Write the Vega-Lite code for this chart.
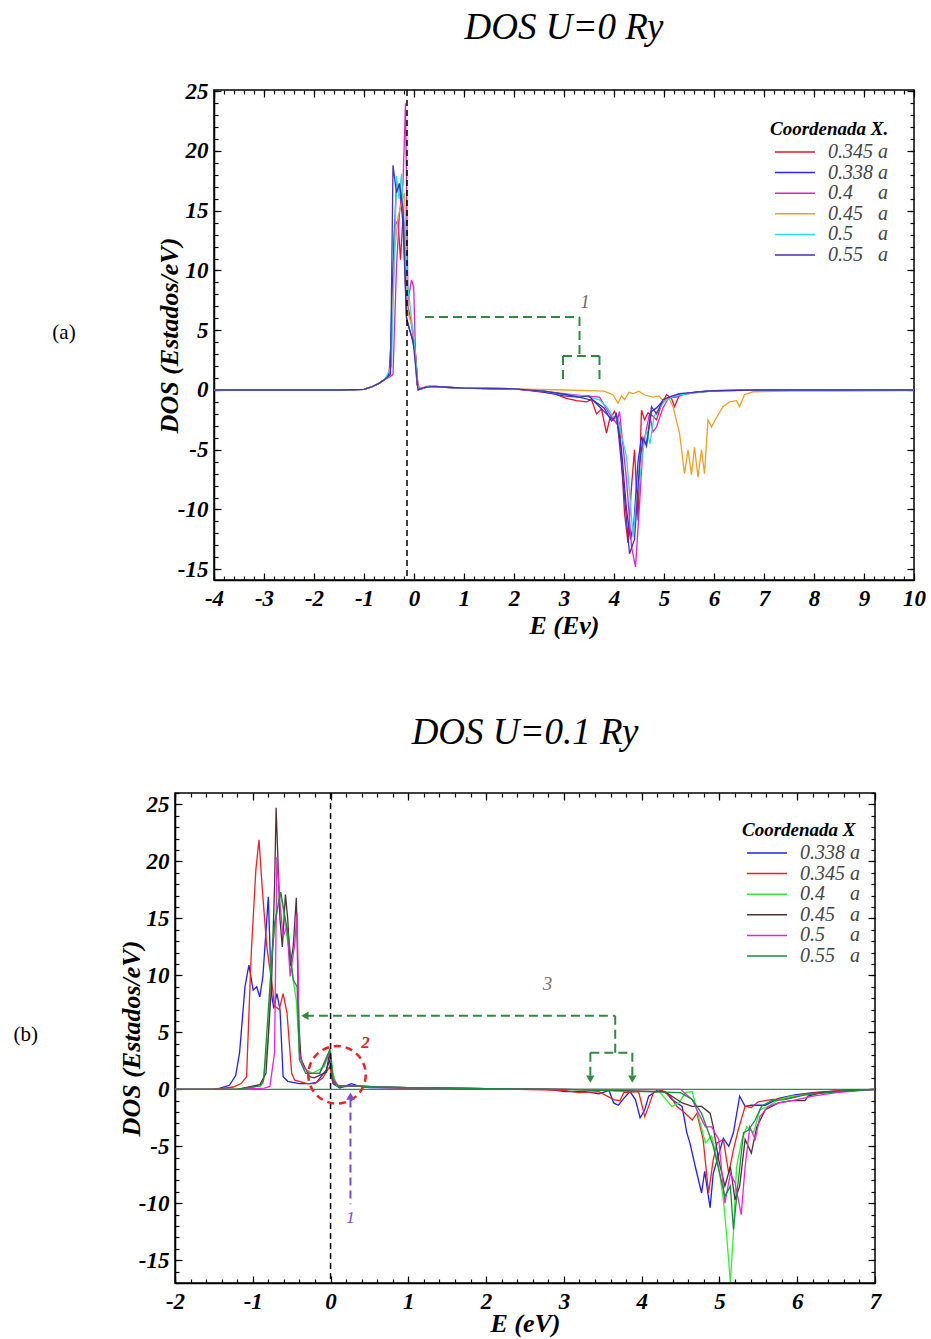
{
"$schema": "https://vega.github.io/schema/vega-lite/v6.json",
"padding": {"left": 12, "top": 8, "right": 5, "bottom": 2},
"background": "white",
"config": {
  "font": "Liberation Serif",
  "axis": {"labelFont": "Liberation Serif", "labelFontStyle": "italic", "labelFontWeight": "bold", "labelFontSize": 23, "labelColor": "#000", "titleFont": "Liberation Serif", "titleFontStyle": "italic", "titleFontWeight": "bold", "titleFontSize": 26, "titleColor": "#000", "domainColor": "#000", "domainWidth": 1.5, "tickColor": "#000", "tickWidth": 1.2, "grid": false},
  "title": {"font": "Liberation Serif", "fontStyle": "italic", "fontWeight": "normal", "fontSize": 37, "color": "#000", "frame": "group"},
  "legend": {"titleFont": "Liberation Serif", "titleFontStyle": "italic", "titleFontWeight": "bold", "titleFontSize": 19, "titleColor": "#000", "labelFont": "Liberation Serif", "labelFontStyle": "italic", "labelFontSize": 20, "labelColor": "#444"}
},
"resolve": {"scale": {"x": "independent", "y": "independent", "color": "independent"}, "legend": {"color": "independent"}},
"spacing": 74,
"datasets": {
  "A": [
{"s":"0.345","E":-4,"D":0},{"s":"0.345","E":-1.5,"D":0},{"s":"0.345","E":-1,"D":0.05},{"s":"0.345","E":-0.85,"D":0.25},{"s":"0.345","E":-0.7,"D":0.55},{"s":"0.345","E":-0.58,"D":0.9},{"s":"0.345","E":-0.5,"D":1.2},{"s":"0.345","E":-0.45,"D":4.7},{"s":"0.345","E":-0.39,"D":13.7},{"s":"0.345","E":-0.32,"D":14.2},{"s":"0.345","E":-0.27,"D":10.9},{"s":"0.345","E":-0.22,"D":14.5},{"s":"0.345","E":-0.17,"D":13},{"s":"0.345","E":-0.12,"D":7},{"s":"0.345","E":-0.05,"D":5.5},{"s":"0.345","E":0.01,"D":3.6},{"s":"0.345","E":0.06,"D":0.4},{"s":"0.345","E":0.12,"D":0.1},{"s":"0.345","E":0.25,"D":0.3},{"s":"0.345","E":0.45,"D":0.3},{"s":"0.345","E":0.7,"D":0.2},{"s":"0.345","E":1,"D":0.15},{"s":"0.345","E":1.5,"D":0.1},{"s":"0.345","E":2,"D":0.1},{"s":"0.345","E":2.4,"D":-0.1},{"s":"0.345","E":2.8,"D":-0.3},{"s":"0.345","E":3.05,"D":-0.7},{"s":"0.345","E":3.25,"D":-0.9},{"s":"0.345","E":3.45,"D":-1},{"s":"0.345","E":3.55,"D":-0.8},{"s":"0.345","E":3.65,"D":-2},{"s":"0.345","E":3.75,"D":-1.6},{"s":"0.345","E":3.85,"D":-3.6},{"s":"0.345","E":3.91,"D":-2.5},{"s":"0.345","E":4.01,"D":-1.8},{"s":"0.345","E":4.11,"D":-2.8},{"s":"0.345","E":4.21,"D":-10.3},{"s":"0.345","E":4.28,"D":-12.8},{"s":"0.345","E":4.35,"D":-8.1},{"s":"0.345","E":4.41,"D":-5},{"s":"0.345","E":4.48,"D":-10.9},{"s":"0.345","E":4.55,"D":-1.7},{"s":"0.345","E":4.61,"D":-2.5},{"s":"0.345","E":4.68,"D":-1.9},{"s":"0.345","E":4.78,"D":-2.2},{"s":"0.345","E":4.85,"D":-2.5},{"s":"0.345","E":4.95,"D":-1.2},{"s":"0.345","E":5.05,"D":-0.4},{"s":"0.345","E":5.15,"D":-0.7},{"s":"0.345","E":5.21,"D":-1.4},{"s":"0.345","E":5.31,"D":-0.4},{"s":"0.345","E":5.5,"D":-0.3},{"s":"0.345","E":5.71,"D":-0.15},{"s":"0.345","E":6.2,"D":-0.05},{"s":"0.345","E":7,"D":0},{"s":"0.345","E":10,"D":0},
{"s":"0.338","E":-4,"D":0},{"s":"0.338","E":-1.5,"D":0},{"s":"0.338","E":-1,"D":0.05},{"s":"0.338","E":-0.85,"D":0.25},{"s":"0.338","E":-0.7,"D":0.55},{"s":"0.338","E":-0.58,"D":0.9},{"s":"0.338","E":-0.48,"D":1.5},{"s":"0.338","E":-0.42,"D":10},{"s":"0.338","E":-0.36,"D":16.5},{"s":"0.338","E":-0.3,"D":17.2},{"s":"0.338","E":-0.22,"D":14},{"s":"0.338","E":-0.15,"D":6},{"s":"0.338","E":-0.05,"D":4.5},{"s":"0.338","E":0.03,"D":3},{"s":"0.338","E":0.08,"D":0.2},{"s":"0.338","E":0.15,"D":0.1},{"s":"0.338","E":0.3,"D":0.3},{"s":"0.338","E":0.5,"D":0.25},{"s":"0.338","E":1,"D":0.15},{"s":"0.338","E":2,"D":0.1},{"s":"0.338","E":2.5,"D":-0.1},{"s":"0.338","E":3,"D":-0.5},{"s":"0.338","E":3.3,"D":-0.6},{"s":"0.338","E":3.6,"D":-0.9},{"s":"0.338","E":3.8,"D":-1.5},{"s":"0.338","E":3.95,"D":-2.6},{"s":"0.338","E":4.05,"D":-2.2},{"s":"0.338","E":4.15,"D":-5},{"s":"0.338","E":4.25,"D":-10},{"s":"0.338","E":4.33,"D":-12.5},{"s":"0.338","E":4.4,"D":-11},{"s":"0.338","E":4.48,"D":-6},{"s":"0.338","E":4.55,"D":-4},{"s":"0.338","E":4.65,"D":-4.5},{"s":"0.338","E":4.75,"D":-1.8},{"s":"0.338","E":4.85,"D":-1.5},{"s":"0.338","E":4.98,"D":-0.9},{"s":"0.338","E":5.1,"D":-0.7},{"s":"0.338","E":5.3,"D":-0.4},{"s":"0.338","E":5.6,"D":-0.2},{"s":"0.338","E":6,"D":-0.05},{"s":"0.338","E":7,"D":0},{"s":"0.338","E":10,"D":0},
{"s":"0.4","E":-4,"D":0},{"s":"0.4","E":-1.5,"D":0},{"s":"0.4","E":-1,"D":0.05},{"s":"0.4","E":-0.85,"D":0.25},{"s":"0.4","E":-0.7,"D":0.55},{"s":"0.4","E":-0.58,"D":0.9},{"s":"0.4","E":-0.48,"D":1.1},{"s":"0.4","E":-0.42,"D":1.3},{"s":"0.4","E":-0.35,"D":10.3},{"s":"0.4","E":-0.29,"D":14.8},{"s":"0.4","E":-0.22,"D":17.3},{"s":"0.4","E":-0.17,"D":24},{"s":"0.4","E":-0.12,"D":7.5},{"s":"0.4","E":-0.05,"D":9.2},{"s":"0.4","E":-0.006,"D":8.6},{"s":"0.4","E":0.03,"D":3},{"s":"0.4","E":0.08,"D":0.3},{"s":"0.4","E":0.15,"D":0.1},{"s":"0.4","E":0.3,"D":0.3},{"s":"0.4","E":0.5,"D":0.25},{"s":"0.4","E":1,"D":0.15},{"s":"0.4","E":2,"D":0.1},{"s":"0.4","E":2.6,"D":-0.1},{"s":"0.4","E":3,"D":-0.3},{"s":"0.4","E":3.4,"D":-0.5},{"s":"0.4","E":3.71,"D":-0.6},{"s":"0.4","E":3.91,"D":-2},{"s":"0.4","E":4.05,"D":-2.8},{"s":"0.4","E":4.11,"D":-1.8},{"s":"0.4","E":4.25,"D":-7.5},{"s":"0.4","E":4.35,"D":-13.1},{"s":"0.4","E":4.43,"D":-14.8},{"s":"0.4","E":4.5,"D":-10.3},{"s":"0.4","E":4.58,"D":-4.7},{"s":"0.4","E":4.71,"D":-2},{"s":"0.4","E":4.78,"D":-3.5},{"s":"0.4","E":4.85,"D":-3.1},{"s":"0.4","E":4.98,"D":-1.5},{"s":"0.4","E":5.1,"D":-0.6},{"s":"0.4","E":5.25,"D":-0.6},{"s":"0.4","E":5.45,"D":-0.3},{"s":"0.4","E":5.7,"D":-0.15},{"s":"0.4","E":6.2,"D":-0.05},{"s":"0.4","E":7,"D":0},{"s":"0.4","E":10,"D":0},
{"s":"0.45","E":-4,"D":0},{"s":"0.45","E":-1.5,"D":0},{"s":"0.45","E":-1,"D":0.05},{"s":"0.45","E":-0.85,"D":0.25},{"s":"0.45","E":-0.7,"D":0.55},{"s":"0.45","E":-0.58,"D":0.9},{"s":"0.45","E":-0.48,"D":1.2},{"s":"0.45","E":-0.45,"D":4.7},{"s":"0.45","E":-0.38,"D":12},{"s":"0.45","E":-0.32,"D":14.5},{"s":"0.45","E":-0.23,"D":15.9},{"s":"0.45","E":-0.19,"D":16.5},{"s":"0.45","E":-0.12,"D":6.5},{"s":"0.45","E":-0.02,"D":5},{"s":"0.45","E":0.04,"D":2},{"s":"0.45","E":0.08,"D":0.2},{"s":"0.45","E":0.2,"D":0.2},{"s":"0.45","E":0.4,"D":0.3},{"s":"0.45","E":1,"D":0.15},{"s":"0.45","E":2,"D":0.1},{"s":"0.45","E":3,"D":0},{"s":"0.45","E":3.5,"D":-0.05},{"s":"0.45","E":3.8,"D":-0.1},{"s":"0.45","E":3.98,"D":-0.4},{"s":"0.45","E":4.08,"D":-1.1},{"s":"0.45","E":4.15,"D":-0.5},{"s":"0.45","E":4.21,"D":-0.8},{"s":"0.45","E":4.3,"D":-0.2},{"s":"0.45","E":4.38,"D":-0.3},{"s":"0.45","E":4.5,"D":-0.1},{"s":"0.45","E":4.6,"D":-0.4},{"s":"0.45","E":4.78,"D":-0.6},{"s":"0.45","E":4.9,"D":-0.5},{"s":"0.45","E":4.98,"D":-0.9},{"s":"0.45","E":5.1,"D":-0.7},{"s":"0.45","E":5.18,"D":-1.4},{"s":"0.45","E":5.31,"D":-3.6},{"s":"0.45","E":5.41,"D":-7},{"s":"0.45","E":5.48,"D":-5},{"s":"0.45","E":5.55,"D":-7.1},{"s":"0.45","E":5.61,"D":-4.8},{"s":"0.45","E":5.68,"D":-7.3},{"s":"0.45","E":5.75,"D":-5},{"s":"0.45","E":5.81,"D":-7},{"s":"0.45","E":5.88,"D":-2.5},{"s":"0.45","E":5.95,"D":-3.1},{"s":"0.45","E":6.05,"D":-2.3},{"s":"0.45","E":6.18,"D":-1.4},{"s":"0.45","E":6.31,"D":-1},{"s":"0.45","E":6.45,"D":-0.9},{"s":"0.45","E":6.51,"D":-1.4},{"s":"0.45","E":6.61,"D":-0.4},{"s":"0.45","E":6.78,"D":-0.15},{"s":"0.45","E":7.5,"D":-0.1},{"s":"0.45","E":8.5,"D":-0.1},{"s":"0.45","E":10,"D":-0.05},
{"s":"0.5","E":-4,"D":0},{"s":"0.5","E":-1.5,"D":0},{"s":"0.5","E":-1,"D":0.05},{"s":"0.5","E":-0.85,"D":0.25},{"s":"0.5","E":-0.7,"D":0.55},{"s":"0.5","E":-0.58,"D":0.9},{"s":"0.5","E":-0.45,"D":2},{"s":"0.5","E":-0.4,"D":10},{"s":"0.5","E":-0.35,"D":17.9},{"s":"0.5","E":-0.3,"D":16},{"s":"0.5","E":-0.25,"D":18.1},{"s":"0.5","E":-0.19,"D":13.1},{"s":"0.5","E":-0.12,"D":8.6},{"s":"0.5","E":-0.05,"D":6},{"s":"0.5","E":0.014,"D":3.6},{"s":"0.5","E":0.07,"D":0.4},{"s":"0.5","E":0.15,"D":0.1},{"s":"0.5","E":0.3,"D":0.3},{"s":"0.5","E":0.5,"D":0.25},{"s":"0.5","E":1,"D":0.15},{"s":"0.5","E":2,"D":0.1},{"s":"0.5","E":2.6,"D":-0.1},{"s":"0.5","E":3,"D":-0.4},{"s":"0.5","E":3.4,"D":-0.5},{"s":"0.5","E":3.7,"D":-0.8},{"s":"0.5","E":3.85,"D":-1.4},{"s":"0.5","E":3.98,"D":-2.2},{"s":"0.5","E":4.08,"D":-2.5},{"s":"0.5","E":4.25,"D":-5.6},{"s":"0.5","E":4.32,"D":-9},{"s":"0.5","E":4.38,"D":-12.3},{"s":"0.5","E":4.45,"D":-9},{"s":"0.5","E":4.51,"D":-7.7},{"s":"0.5","E":4.58,"D":-5},{"s":"0.5","E":4.65,"D":-3.4},{"s":"0.5","E":4.72,"D":-4.5},{"s":"0.5","E":4.8,"D":-2.2},{"s":"0.5","E":4.9,"D":-1.6},{"s":"0.5","E":5,"D":-1},{"s":"0.5","E":5.2,"D":-0.5},{"s":"0.5","E":5.5,"D":-0.3},{"s":"0.5","E":6,"D":-0.05},{"s":"0.5","E":7,"D":0},{"s":"0.5","E":10,"D":0},
{"s":"0.55","E":-4,"D":0},{"s":"0.55","E":-1.5,"D":0},{"s":"0.55","E":-1,"D":0.05},{"s":"0.55","E":-0.85,"D":0.25},{"s":"0.55","E":-0.7,"D":0.55},{"s":"0.55","E":-0.58,"D":0.9},{"s":"0.55","E":-0.47,"D":1.3},{"s":"0.55","E":-0.42,"D":18.8},{"s":"0.55","E":-0.35,"D":16.5},{"s":"0.55","E":-0.29,"D":17.3},{"s":"0.55","E":-0.22,"D":15.1},{"s":"0.55","E":-0.15,"D":6.1},{"s":"0.55","E":-0.09,"D":5},{"s":"0.55","E":-0.02,"D":4.2},{"s":"0.55","E":0.08,"D":0},{"s":"0.55","E":0.2,"D":0.2},{"s":"0.55","E":0.4,"D":0.3},{"s":"0.55","E":0.6,"D":0.25},{"s":"0.55","E":1,"D":0.15},{"s":"0.55","E":2,"D":0.1},{"s":"0.55","E":2.6,"D":-0.1},{"s":"0.55","E":3.05,"D":-0.4},{"s":"0.55","E":3.3,"D":-0.6},{"s":"0.55","E":3.5,"D":-0.5},{"s":"0.55","E":3.71,"D":-1.4},{"s":"0.55","E":3.85,"D":-2},{"s":"0.55","E":3.98,"D":-2.5},{"s":"0.55","E":4.05,"D":-2},{"s":"0.55","E":4.18,"D":-7.5},{"s":"0.55","E":4.31,"D":-13.7},{"s":"0.55","E":4.41,"D":-12.5},{"s":"0.55","E":4.51,"D":-6.3},{"s":"0.55","E":4.58,"D":-4},{"s":"0.55","E":4.65,"D":-4.7},{"s":"0.55","E":4.75,"D":-1.4},{"s":"0.55","E":4.85,"D":-2},{"s":"0.55","E":4.98,"D":-0.8},{"s":"0.55","E":5.1,"D":-0.6},{"s":"0.55","E":5.3,"D":-0.3},{"s":"0.55","E":5.6,"D":-0.2},{"s":"0.55","E":6,"D":-0.05},{"s":"0.55","E":7,"D":0},{"s":"0.55","E":10,"D":0}
  ],
  "B": [
{"s":"0.338","E":-2,"D":0},{"s":"0.338","E":-1.5,"D":0},{"s":"0.338","E":-1.42,"D":0.1},{"s":"0.338","E":-1.3,"D":0.35},{"s":"0.338","E":-1.22,"D":1.2},{"s":"0.338","E":-1.17,"D":3.2},{"s":"0.338","E":-1.1,"D":9},{"s":"0.338","E":-1.05,"D":10.9},{"s":"0.338","E":-0.995,"D":8.7},{"s":"0.338","E":-0.95,"D":9},{"s":"0.338","E":-0.91,"D":8.1},{"s":"0.338","E":-0.87,"D":9.9},{"s":"0.338","E":-0.8,"D":16.9},{"s":"0.338","E":-0.76,"D":8.4},{"s":"0.338","E":-0.73,"D":7.1},{"s":"0.338","E":-0.69,"D":8.4},{"s":"0.338","E":-0.65,"D":7},{"s":"0.338","E":-0.61,"D":1.1},{"s":"0.338","E":-0.55,"D":0.7},{"s":"0.338","E":-0.4,"D":0.5},{"s":"0.338","E":-0.27,"D":0.5},{"s":"0.338","E":-0.18,"D":0.6},{"s":"0.338","E":-0.055,"D":1.7},{"s":"0.338","E":-0.01,"D":2.6},{"s":"0.338","E":0.03,"D":0.5},{"s":"0.338","E":0.12,"D":0.1},{"s":"0.338","E":0.27,"D":0.5},{"s":"0.338","E":0.37,"D":0.25},{"s":"0.338","E":0.5,"D":0.15},{"s":"0.338","E":1,"D":0.1},{"s":"0.338","E":2,"D":0.05},{"s":"0.338","E":2.8,"D":0},{"s":"0.338","E":3.02,"D":-0.2},{"s":"0.338","E":3.28,"D":-0.2},{"s":"0.338","E":3.45,"D":-0.4},{"s":"0.338","E":3.58,"D":-0.1},{"s":"0.338","E":3.64,"D":-1.2},{"s":"0.338","E":3.7,"D":-1.4},{"s":"0.338","E":3.77,"D":-0.8},{"s":"0.338","E":3.85,"D":-0.2},{"s":"0.338","E":3.92,"D":-0.9},{"s":"0.338","E":3.98,"D":-2.5},{"s":"0.338","E":4.04,"D":-1.8},{"s":"0.338","E":4.09,"D":-0.6},{"s":"0.338","E":4.2,"D":-0.1},{"s":"0.338","E":4.3,"D":-0.2},{"s":"0.338","E":4.39,"D":-0.9},{"s":"0.338","E":4.52,"D":-1.5},{"s":"0.338","E":4.58,"D":-3.8},{"s":"0.338","E":4.62,"D":-4.7},{"s":"0.338","E":4.69,"D":-6.8},{"s":"0.338","E":4.77,"D":-9.1},{"s":"0.338","E":4.81,"D":-7.2},{"s":"0.338","E":4.88,"D":-10.4},{"s":"0.338","E":4.92,"D":-7.4},{"s":"0.338","E":5.05,"D":-4.3},{"s":"0.338","E":5.12,"D":-5},{"s":"0.338","E":5.18,"D":-3.8},{"s":"0.338","E":5.26,"D":-0.6},{"s":"0.338","E":5.33,"D":-1.5},{"s":"0.338","E":5.41,"D":-1.4},{"s":"0.338","E":5.59,"D":-1.4},{"s":"0.338","E":5.76,"D":-0.8},{"s":"0.338","E":5.97,"D":-0.5},{"s":"0.338","E":6.2,"D":-0.3},{"s":"0.338","E":6.6,"D":-0.1},{"s":"0.338","E":7,"D":0},
{"s":"0.345","E":-2,"D":0},{"s":"0.345","E":-1.5,"D":0},{"s":"0.345","E":-1.25,"D":0.2},{"s":"0.345","E":-1.15,"D":0.5},{"s":"0.345","E":-1.08,"D":1.1},{"s":"0.345","E":-1.02,"D":11.9},{"s":"0.345","E":-0.96,"D":19.3},{"s":"0.345","E":-0.92,"D":21.9},{"s":"0.345","E":-0.88,"D":17.8},{"s":"0.345","E":-0.82,"D":12.5},{"s":"0.345","E":-0.76,"D":9.6},{"s":"0.345","E":-0.72,"D":7.3},{"s":"0.345","E":-0.66,"D":7},{"s":"0.345","E":-0.61,"D":8.4},{"s":"0.345","E":-0.56,"D":6.7},{"s":"0.345","E":-0.5,"D":1.4},{"s":"0.345","E":-0.46,"D":0.8},{"s":"0.345","E":-0.3,"D":0.5},{"s":"0.345","E":-0.2,"D":0.5},{"s":"0.345","E":-0.1,"D":1},{"s":"0.345","E":-0.01,"D":2},{"s":"0.345","E":0.03,"D":0.6},{"s":"0.345","E":0.12,"D":0.2},{"s":"0.345","E":0.3,"D":0.3},{"s":"0.345","E":0.5,"D":0.2},{"s":"0.345","E":1,"D":0.1},{"s":"0.345","E":2,"D":0.05},{"s":"0.345","E":3,"D":-0.1},{"s":"0.345","E":3.19,"D":-0.3},{"s":"0.345","E":3.45,"D":-0.2},{"s":"0.345","E":3.64,"D":-0.9},{"s":"0.345","E":3.72,"D":-1},{"s":"0.345","E":3.77,"D":-0.3},{"s":"0.345","E":3.96,"D":-0.2},{"s":"0.345","E":4.04,"D":-2.4},{"s":"0.345","E":4.09,"D":-1.5},{"s":"0.345","E":4.15,"D":-0.3},{"s":"0.345","E":4.26,"D":-0.1},{"s":"0.345","E":4.37,"D":-0.6},{"s":"0.345","E":4.45,"D":-1.5},{"s":"0.345","E":4.56,"D":-2.1},{"s":"0.345","E":4.65,"D":-2.7},{"s":"0.345","E":4.71,"D":-2.1},{"s":"0.345","E":4.79,"D":-4.4},{"s":"0.345","E":4.86,"D":-9.1},{"s":"0.345","E":4.92,"D":-6.2},{"s":"0.345","E":4.97,"D":-4.7},{"s":"0.345","E":5.05,"D":-4.4},{"s":"0.345","E":5.12,"D":-7.4},{"s":"0.345","E":5.18,"D":-5.3},{"s":"0.345","E":5.24,"D":-3.6},{"s":"0.345","E":5.33,"D":-1.5},{"s":"0.345","E":5.41,"D":-1.6},{"s":"0.345","E":5.5,"D":-1.1},{"s":"0.345","E":5.67,"D":-0.9},{"s":"0.345","E":5.88,"D":-0.8},{"s":"0.345","E":6.1,"D":-0.4},{"s":"0.345","E":6.5,"D":-0.15},{"s":"0.345","E":7,"D":0},
{"s":"0.4","E":-2,"D":0},{"s":"0.4","E":-1.2,"D":0},{"s":"0.4","E":-1,"D":0.2},{"s":"0.4","E":-0.87,"D":0.5},{"s":"0.4","E":-0.8,"D":4.6},{"s":"0.4","E":-0.76,"D":11.9},{"s":"0.4","E":-0.7,"D":14.9},{"s":"0.4","E":-0.65,"D":17.3},{"s":"0.4","E":-0.6,"D":15.5},{"s":"0.4","E":-0.56,"D":13.4},{"s":"0.4","E":-0.5,"D":10.5},{"s":"0.4","E":-0.44,"D":7.8},{"s":"0.4","E":-0.4,"D":3.2},{"s":"0.4","E":-0.33,"D":1.8},{"s":"0.4","E":-0.23,"D":1.4},{"s":"0.4","E":-0.08,"D":2},{"s":"0.4","E":-0.003,"D":3.5},{"s":"0.4","E":0.03,"D":1.4},{"s":"0.4","E":0.08,"D":0.3},{"s":"0.4","E":0.2,"D":0.3},{"s":"0.4","E":0.4,"D":0.25},{"s":"0.4","E":0.6,"D":0.2},{"s":"0.4","E":1,"D":0.15},{"s":"0.4","E":2,"D":0.05},{"s":"0.4","E":3,"D":0},{"s":"0.4","E":4.2,"D":0},{"s":"0.4","E":4.39,"D":-1.5},{"s":"0.4","E":4.48,"D":-1.2},{"s":"0.4","E":4.56,"D":-0.3},{"s":"0.4","E":4.65,"D":-0.2},{"s":"0.4","E":4.73,"D":-2.4},{"s":"0.4","E":4.82,"D":-4.7},{"s":"0.4","E":4.9,"D":-4.1},{"s":"0.4","E":4.99,"D":-6.8},{"s":"0.4","E":5.05,"D":-9.7},{"s":"0.4","E":5.09,"D":-12.6},{"s":"0.4","E":5.14,"D":-16.9},{"s":"0.4","E":5.18,"D":-12.6},{"s":"0.4","E":5.22,"D":-6.8},{"s":"0.4","E":5.29,"D":-4.4},{"s":"0.4","E":5.35,"D":-3.3},{"s":"0.4","E":5.44,"D":-3.8},{"s":"0.4","E":5.52,"D":-1.8},{"s":"0.4","E":5.63,"D":-1.5},{"s":"0.4","E":5.76,"D":-0.9},{"s":"0.4","E":5.93,"D":-0.6},{"s":"0.4","E":6.1,"D":-0.5},{"s":"0.4","E":6.5,"D":-0.2},{"s":"0.4","E":7,"D":0},
{"s":"0.45","E":-2,"D":0},{"s":"0.45","E":-1.2,"D":0},{"s":"0.45","E":-0.91,"D":0.4},{"s":"0.45","E":-0.83,"D":1.4},{"s":"0.45","E":-0.76,"D":9},{"s":"0.45","E":-0.72,"D":17.8},{"s":"0.45","E":-0.7,"D":24.7},{"s":"0.45","E":-0.65,"D":14.9},{"s":"0.45","E":-0.62,"D":12.5},{"s":"0.45","E":-0.58,"D":17.1},{"s":"0.45","E":-0.55,"D":14.9},{"s":"0.45","E":-0.52,"D":10.8},{"s":"0.45","E":-0.48,"D":12.5},{"s":"0.45","E":-0.44,"D":16.8},{"s":"0.45","E":-0.41,"D":6.1},{"s":"0.45","E":-0.38,"D":2.6},{"s":"0.45","E":-0.27,"D":1.1},{"s":"0.45","E":-0.21,"D":1},{"s":"0.45","E":-0.055,"D":1.5},{"s":"0.45","E":-0.013,"D":3.2},{"s":"0.45","E":0.03,"D":0.8},{"s":"0.45","E":0.1,"D":0.3},{"s":"0.45","E":0.3,"D":0.3},{"s":"0.45","E":0.6,"D":0.2},{"s":"0.45","E":1,"D":0.15},{"s":"0.45","E":2,"D":0.05},{"s":"0.45","E":3,"D":0},{"s":"0.45","E":4.3,"D":-0.2},{"s":"0.45","E":4.52,"D":-1.2},{"s":"0.45","E":4.65,"D":-1.5},{"s":"0.45","E":4.77,"D":-1.5},{"s":"0.45","E":4.88,"D":-2.1},{"s":"0.45","E":4.92,"D":-3.3},{"s":"0.45","E":4.99,"D":-6.2},{"s":"0.45","E":5.07,"D":-8.5},{"s":"0.45","E":5.14,"D":-6.8},{"s":"0.45","E":5.2,"D":-9.7},{"s":"0.45","E":5.26,"D":-8.5},{"s":"0.45","E":5.33,"D":-4.4},{"s":"0.45","E":5.41,"D":-5.6},{"s":"0.45","E":5.48,"D":-3.3},{"s":"0.45","E":5.59,"D":-1.8},{"s":"0.45","E":5.76,"D":-1.2},{"s":"0.45","E":5.93,"D":-1},{"s":"0.45","E":6.1,"D":-1},{"s":"0.45","E":6.14,"D":-0.6},{"s":"0.45","E":6.3,"D":-0.3},{"s":"0.45","E":7,"D":0},
{"s":"0.5","E":-2,"D":0},{"s":"0.5","E":-1.2,"D":0},{"s":"0.5","E":-0.85,"D":0.1},{"s":"0.5","E":-0.78,"D":0.25},{"s":"0.5","E":-0.72,"D":3.2},{"s":"0.5","E":-0.69,"D":20.4},{"s":"0.5","E":-0.65,"D":16.3},{"s":"0.5","E":-0.61,"D":13.4},{"s":"0.5","E":-0.56,"D":14.3},{"s":"0.5","E":-0.52,"D":9.9},{"s":"0.5","E":-0.46,"D":12.8},{"s":"0.5","E":-0.43,"D":15.5},{"s":"0.5","E":-0.4,"D":3.2},{"s":"0.5","E":-0.35,"D":2},{"s":"0.5","E":-0.27,"D":1.4},{"s":"0.5","E":-0.14,"D":1.4},{"s":"0.5","E":-0.01,"D":3.2},{"s":"0.5","E":0.03,"D":1},{"s":"0.5","E":0.1,"D":0.3},{"s":"0.5","E":0.3,"D":0.3},{"s":"0.5","E":0.6,"D":0.2},{"s":"0.5","E":1,"D":0.15},{"s":"0.5","E":2,"D":0.05},{"s":"0.5","E":3,"D":0},{"s":"0.5","E":4.5,"D":0},{"s":"0.5","E":4.65,"D":-0.9},{"s":"0.5","E":4.73,"D":-2.1},{"s":"0.5","E":4.82,"D":-3.3},{"s":"0.5","E":4.9,"D":-3.3},{"s":"0.5","E":4.99,"D":-4.4},{"s":"0.5","E":5.07,"D":-10},{"s":"0.5","E":5.14,"D":-7.4},{"s":"0.5","E":5.2,"D":-8.2},{"s":"0.5","E":5.28,"D":-11},{"s":"0.5","E":5.33,"D":-6.8},{"s":"0.5","E":5.39,"D":-3.3},{"s":"0.5","E":5.46,"D":-4.4},{"s":"0.5","E":5.52,"D":-2.4},{"s":"0.5","E":5.63,"D":-1.5},{"s":"0.5","E":5.76,"D":-1.2},{"s":"0.5","E":6,"D":-0.9},{"s":"0.5","E":6.2,"D":-0.6},{"s":"0.5","E":6.5,"D":-0.3},{"s":"0.5","E":7,"D":0},
{"s":"0.55","E":-2,"D":0},{"s":"0.55","E":-1.2,"D":0},{"s":"0.55","E":-0.9,"D":0.3},{"s":"0.55","E":-0.86,"D":0.8},{"s":"0.55","E":-0.78,"D":9},{"s":"0.55","E":-0.72,"D":14.6},{"s":"0.55","E":-0.64,"D":17.3},{"s":"0.55","E":-0.58,"D":14.9},{"s":"0.55","E":-0.54,"D":13.4},{"s":"0.55","E":-0.48,"D":9.6},{"s":"0.55","E":-0.43,"D":9},{"s":"0.55","E":-0.4,"D":2.6},{"s":"0.55","E":-0.32,"D":1.4},{"s":"0.55","E":-0.14,"D":1.4},{"s":"0.55","E":-0.01,"D":3.5},{"s":"0.55","E":0.04,"D":0.6},{"s":"0.55","E":0.1,"D":0.3},{"s":"0.55","E":0.3,"D":0.3},{"s":"0.55","E":0.6,"D":0.2},{"s":"0.55","E":1,"D":0.15},{"s":"0.55","E":2,"D":0.05},{"s":"0.55","E":3,"D":0},{"s":"0.55","E":4.5,"D":-0.3},{"s":"0.55","E":4.65,"D":-0.9},{"s":"0.55","E":4.77,"D":-2.1},{"s":"0.55","E":4.86,"D":-3.8},{"s":"0.55","E":4.92,"D":-5},{"s":"0.55","E":5.01,"D":-7.6},{"s":"0.55","E":5.07,"D":-9.4},{"s":"0.55","E":5.14,"D":-8.5},{"s":"0.55","E":5.18,"D":-12.3},{"s":"0.55","E":5.24,"D":-8.2},{"s":"0.55","E":5.31,"D":-3.8},{"s":"0.55","E":5.37,"D":-3.6},{"s":"0.55","E":5.46,"D":-2.7},{"s":"0.55","E":5.54,"D":-1.5},{"s":"0.55","E":5.67,"D":-1},{"s":"0.55","E":5.84,"D":-0.9},{"s":"0.55","E":6.1,"D":-0.5},{"s":"0.55","E":6.5,"D":-0.2},{"s":"0.55","E":7,"D":0}
  ],
  "gA": [
    {"x":0.22,"x2":3.31,"y":6.1,"y2":6.1},
    {"x":3.31,"x2":3.31,"y":6.1,"y2":2.84},
    {"x":2.98,"x2":3.71,"y":2.84,"y2":2.84},
    {"x":2.98,"x2":2.98,"y":2.84,"y2":0.8},
    {"x":3.71,"x2":3.71,"y":2.84,"y2":0.8}
  ],
  "gB": [
    {"x":-0.33,"x2":3.66,"y":6.45,"y2":6.45},
    {"x":3.66,"x2":3.66,"y":6.45,"y2":3.2},
    {"x":3.34,"x2":3.88,"y":3.2,"y2":3.2},
    {"x":3.34,"x2":3.34,"y":3.2,"y2":1.2},
    {"x":3.88,"x2":3.88,"y":3.2,"y2":1.2}
  ]
},
"vconcat": [
  {
    "hconcat": [
      {"width": 39, "height": 10, "data": {"values": []}, "mark": {"type": "point", "opacity": 0}, "view": {"stroke": null}},
      {
        "width": 700, "height": 490,
        "title": {"text": "DOS U=0 Ry", "offset": 33},
        "view": {"stroke": "#000", "strokeWidth": 1.5},
        "resolve": {"axis": {"x": "independent", "y": "independent"}},
        "layer": [
          {
            "data": {"name": "A"},
            "mark": {"type": "line", "strokeWidth": 1.3, "clip": true},
            "encoding": {
              "x": {"field": "E", "type": "quantitative", "scale": {"domain": [-4, 10], "nice": false, "zero": false},
                    "axis": {"title": "E (Ev)", "values": [-4,-3,-2,-1,0,1,2,3,4,5,6,7,8,9,10], "tickSize": -7, "labelPadding": 14, "titlePadding": 2, "labelExpr": "toString(datum.value)", "labelFlush": false}},
              "y": {"field": "D", "type": "quantitative", "scale": {"domain": [-15.9, 25.1], "nice": false, "zero": false},
                    "axis": {"title": "DOS (Estados/eV)", "values": [-15,-10,-5,0,5,10,15,20,25], "tickSize": -7, "labelPadding": 13, "titlePadding": -5, "labelExpr": "toString(datum.value)", "labelFlush": false}},
              "color": {"field": "s", "type": "nominal",
                        "scale": {"domain": ["0.345","0.338","0.4","0.45","0.5","0.55"], "range": ["#e8102a","#2a2ae8","#e020c8","#f0a020","#20e0e8","#4a30b0"]},
                        "legend": {"title": "Coordenada X.", "orient": "none", "legendX": 556, "legendY": 30, "symbolType": "M-1,0H7", "symbolSize": 100, "symbolStrokeWidth": 1.5, "labelOffset": 38, "rowPadding": 0.6, "titlePadding": 3,
                                   "labelExpr": "datum.label == '0.4' || datum.label == '0.5' ? datum.label + '\u00a0\u00a0\u00a0\u00a0\u00a0a' : (datum.label == '0.45' || datum.label == '0.55' ? datum.label + '\u00a0\u00a0\u00a0a' : datum.label + '\u00a0a')"}}
            }
          },
          {
            "data": {"values": [{"E": -0.14}]},
            "mark": {"type": "rule", "color": "#000", "strokeWidth": 1.5, "strokeDash": [6, 4]},
            "encoding": {"x": {"field": "E", "type": "quantitative", "scale": {"domain": [-4, 10], "nice": false, "zero": false}, "axis": null}}
          },
          {
            "data": {"name": "gA"},
            "mark": {"type": "rule", "color": "#2e8b3e", "strokeWidth": 2, "strokeDash": [9, 5]},
            "encoding": {
              "x": {"field": "x", "type": "quantitative", "scale": {"domain": [-4, 10], "nice": false, "zero": false}, "axis": null},
              "x2": {"field": "x2"},
              "y": {"field": "y", "type": "quantitative", "scale": {"domain": [-15.9, 25.1], "nice": false, "zero": false}, "axis": null},
              "y2": {"field": "y2"}
            }
          },
          {
            "data": {"values": [{"E": 3.42, "D": 7.3, "t": "1"}]},
            "mark": {"type": "text", "font": "Liberation Serif", "fontStyle": "italic", "fontSize": 18, "color": "#666"},
            "encoding": {
              "x": {"field": "E", "type": "quantitative", "scale": {"domain": [-4, 10], "nice": false, "zero": false}, "axis": null},
              "y": {"field": "D", "type": "quantitative", "scale": {"domain": [-15.9, 25.1], "nice": false, "zero": false}, "axis": null},
              "text": {"field": "t"}
            }
          },
          {
            "data": {"values": [{"E": -7, "D": 4.8, "t": "(a)"}]},
            "mark": {"type": "text", "font": "Liberation Serif", "fontSize": 21, "color": "#000"},
            "encoding": {
              "x": {"field": "E", "type": "quantitative", "scale": {"domain": [-4, 10], "nice": false, "zero": false}, "axis": null},
              "y": {"field": "D", "type": "quantitative", "scale": {"domain": [-15.9, 25.1], "nice": false, "zero": false}, "axis": null},
              "text": {"field": "t"}
            }
          },
          {
            "data": {"values": [{"E": 0, "D": 0}]},
            "mark": {"type": "point", "opacity": 0},
            "encoding": {
              "x": {"field": "E", "type": "quantitative", "scale": {"domain": [-4, 10], "nice": false, "zero": false}, "axis": {"orient": "bottom", "tickCount": 70, "labels": false, "domain": false, "tickSize": -4, "title": null}},
              "y": {"field": "D", "type": "quantitative", "scale": {"domain": [-15.9, 25.1], "nice": false, "zero": false}, "axis": {"orient": "left", "tickCount": 41, "labels": false, "domain": false, "tickSize": -4, "title": null}}
            }
          },
          {
            "data": {"values": [{"E": 0, "D": 0}]},
            "mark": {"type": "point", "opacity": 0},
            "encoding": {
              "x": {"field": "E", "type": "quantitative", "scale": {"domain": [-4, 10], "nice": false, "zero": false}, "axis": {"orient": "top", "values": [-4,-3,-2,-1,0,1,2,3,4,5,6,7,8,9,10], "labels": false, "domain": false, "tickSize": -7, "title": null}},
              "y": {"field": "D", "type": "quantitative", "scale": {"domain": [-15.9, 25.1], "nice": false, "zero": false}, "axis": {"orient": "right", "values": [-15,-10,-5,0,5,10,15,20,25], "labels": false, "domain": false, "tickSize": -7, "title": null}}
            }
          },
          {
            "data": {"values": [{"E": 0, "D": 0}]},
            "mark": {"type": "point", "opacity": 0},
            "encoding": {
              "x": {"field": "E", "type": "quantitative", "scale": {"domain": [-4, 10], "nice": false, "zero": false}, "axis": {"orient": "top", "tickCount": 70, "labels": false, "domain": false, "tickSize": -4, "title": null}},
              "y": {"field": "D", "type": "quantitative", "scale": {"domain": [-15.9, 25.1], "nice": false, "zero": false}, "axis": {"orient": "right", "tickCount": 41, "labels": false, "domain": false, "tickSize": -4, "title": null}}
            }
          }
        ]
      }
    ],
    "spacing": 0,
    "bounds": "flush",
    "resolve": {"scale": {"x": "independent", "y": "independent", "color": "independent"}, "legend": {"color": "independent"}}
  },
  {
    "width": 700, "height": 490,
    "title": {"text": "DOS U=0.1 Ry", "offset": 40},
    "view": {"stroke": "#000", "strokeWidth": 1.5},
    "resolve": {"axis": {"x": "independent", "y": "independent"}},
    "layer": [
      {
        "data": {"values": [{"E": -2, "D": 0}, {"E": 7, "D": 0}]},
        "mark": {"type": "line", "color": "#1a9a3a", "strokeWidth": 1.3},
        "encoding": {
          "x": {"field": "E", "type": "quantitative", "scale": {"domain": [-2, 7], "nice": false, "zero": false},
                "axis": {"title": "E (eV)", "values": [-2,-1,0,1,2,3,4,5,6,7], "tickSize": -7, "labelPadding": 14, "titlePadding": -3, "labelExpr": "toString(datum.value)", "labelFlush": false}},
          "y": {"field": "D", "type": "quantitative", "scale": {"domain": [-17, 26], "nice": false, "zero": false},
                "axis": {"title": "DOS (Estados/eV)", "values": [-15,-10,-5,0,5,10,15,20,25], "tickSize": -7, "labelPadding": 13, "titlePadding": -6, "labelExpr": "toString(datum.value)", "labelFlush": false}}
        }
      },
      {
        "data": {"name": "B"},
        "mark": {"type": "line", "strokeWidth": 1.3, "clip": true},
        "encoding": {
          "x": {"field": "E", "type": "quantitative", "scale": {"domain": [-2, 7], "nice": false, "zero": false}, "axis": null},
          "y": {"field": "D", "type": "quantitative", "scale": {"domain": [-17, 26], "nice": false, "zero": false}, "axis": null},
          "color": {"field": "s", "type": "nominal",
                    "scale": {"domain": ["0.338","0.345","0.4","0.45","0.5","0.55"], "range": ["#2020f0","#f02020","#30f030","#503030","#f020e0","#10903a"]},
                    "legend": {"title": "Coordenada X", "orient": "none", "legendX": 567, "legendY": 28, "symbolType": "M-1,0H7", "symbolSize": 100, "symbolStrokeWidth": 1.5, "labelOffset": 38, "rowPadding": 0.6, "titlePadding": 3,
                               "labelExpr": "datum.label == '0.4' || datum.label == '0.5' ? datum.label + '\u00a0\u00a0\u00a0\u00a0\u00a0a' : (datum.label == '0.45' || datum.label == '0.55' ? datum.label + '\u00a0\u00a0\u00a0a' : datum.label + '\u00a0a')"}}
        }
      },
      {
        "data": {"values": [{"E": 0}]},
        "mark": {"type": "rule", "color": "#000", "strokeWidth": 1.5, "strokeDash": [6, 4]},
        "encoding": {"x": {"field": "E", "type": "quantitative", "scale": {"domain": [-2, 7], "nice": false, "zero": false}, "axis": null}}
      },
      {
        "data": {"name": "gB"},
        "mark": {"type": "rule", "color": "#2e8b3e", "strokeWidth": 2, "strokeDash": [9, 5]},
        "encoding": {
          "x": {"field": "x", "type": "quantitative", "scale": {"domain": [-2, 7], "nice": false, "zero": false}, "axis": null},
          "x2": {"field": "x2"},
          "y": {"field": "y", "type": "quantitative", "scale": {"domain": [-17, 26], "nice": false, "zero": false}, "axis": null},
          "y2": {"field": "y2"}
        }
      },
      {
        "data": {"values": [{"E": -0.33, "D": 6.45}]},
        "mark": {"type": "point", "shape": "triangle-left", "filled": true, "color": "#2e8b3e", "size": 70, "opacity": 1},
        "encoding": {
          "x": {"field": "E", "type": "quantitative", "scale": {"domain": [-2, 7], "nice": false, "zero": false}, "axis": null},
          "y": {"field": "D", "type": "quantitative", "scale": {"domain": [-17, 26], "nice": false, "zero": false}, "axis": null}
        }
      },
      {
        "data": {"values": [{"E": 3.34, "D": 0.9}, {"E": 3.88, "D": 0.9}]},
        "mark": {"type": "point", "shape": "triangle-down", "filled": true, "color": "#2e8b3e", "size": 70, "opacity": 1},
        "encoding": {
          "x": {"field": "E", "type": "quantitative", "scale": {"domain": [-2, 7], "nice": false, "zero": false}, "axis": null},
          "y": {"field": "D", "type": "quantitative", "scale": {"domain": [-17, 26], "nice": false, "zero": false}, "axis": null}
        }
      },
      {
        "data": {"values": [{"E": 0.083, "D": 1.27}]},
        "mark": {"type": "point", "shape": "circle", "filled": false, "color": "#f02020", "size": 3300, "strokeWidth": 2.5, "strokeDash": [7, 5], "opacity": 1},
        "encoding": {
          "x": {"field": "E", "type": "quantitative", "scale": {"domain": [-2, 7], "nice": false, "zero": false}, "axis": null},
          "y": {"field": "D", "type": "quantitative", "scale": {"domain": [-17, 26], "nice": false, "zero": false}, "axis": null}
        }
      },
      {
        "data": {"values": [{"x": 0.256, "y": -0.9, "y2": -10.1}]},
        "mark": {"type": "rule", "color": "#7a4ad0", "strokeWidth": 2, "strokeDash": [8, 5]},
        "encoding": {
          "x": {"field": "x", "type": "quantitative", "scale": {"domain": [-2, 7], "nice": false, "zero": false}, "axis": null},
          "y": {"field": "y", "type": "quantitative", "scale": {"domain": [-17, 26], "nice": false, "zero": false}, "axis": null},
          "y2": {"field": "y2"}
        }
      },
      {
        "data": {"values": [{"E": 0.256, "D": -0.6}]},
        "mark": {"type": "point", "shape": "triangle-up", "filled": true, "color": "#7a4ad0", "size": 70, "opacity": 1},
        "encoding": {
          "x": {"field": "E", "type": "quantitative", "scale": {"domain": [-2, 7], "nice": false, "zero": false}, "axis": null},
          "y": {"field": "D", "type": "quantitative", "scale": {"domain": [-17, 26], "nice": false, "zero": false}, "axis": null}
        }
      },
      {
        "data": {"values": [{"E": 0.45, "D": 4.1, "t": "2"}]},
        "mark": {"type": "text", "font": "Liberation Serif", "fontStyle": "italic", "fontWeight": "bold", "fontSize": 17, "color": "#f02020"},
        "encoding": {
          "x": {"field": "E", "type": "quantitative", "scale": {"domain": [-2, 7], "nice": false, "zero": false}, "axis": null},
          "y": {"field": "D", "type": "quantitative", "scale": {"domain": [-17, 26], "nice": false, "zero": false}, "axis": null},
          "text": {"field": "t"}
        }
      },
      {
        "data": {"values": [{"E": 2.79, "D": 9.2, "t": "3"}]},
        "mark": {"type": "text", "font": "Liberation Serif", "fontStyle": "italic", "fontSize": 19, "color": "#777"},
        "encoding": {
          "x": {"field": "E", "type": "quantitative", "scale": {"domain": [-2, 7], "nice": false, "zero": false}, "axis": null},
          "y": {"field": "D", "type": "quantitative", "scale": {"domain": [-17, 26], "nice": false, "zero": false}, "axis": null},
          "text": {"field": "t"}
        }
      },
      {
        "data": {"values": [{"E": 0.256, "D": -11.3, "t": "1"}]},
        "mark": {"type": "text", "font": "Liberation Serif", "fontStyle": "italic", "fontSize": 17, "color": "#7a4ad0"},
        "encoding": {
          "x": {"field": "E", "type": "quantitative", "scale": {"domain": [-2, 7], "nice": false, "zero": false}, "axis": null},
          "y": {"field": "D", "type": "quantitative", "scale": {"domain": [-17, 26], "nice": false, "zero": false}, "axis": null},
          "text": {"field": "t"}
        }
      },
      {
        "data": {"values": [{"E": -3.92, "D": 4.8, "t": "(b)"}]},
        "mark": {"type": "text", "font": "Liberation Serif", "fontSize": 21, "color": "#000"},
        "encoding": {
          "x": {"field": "E", "type": "quantitative", "scale": {"domain": [-2, 7], "nice": false, "zero": false}, "axis": null},
          "y": {"field": "D", "type": "quantitative", "scale": {"domain": [-17, 26], "nice": false, "zero": false}, "axis": null},
          "text": {"field": "t"}
        }
      },
      {
        "data": {"values": [{"E": 0, "D": 0}]},
        "mark": {"type": "point", "opacity": 0},
        "encoding": {
          "x": {"field": "E", "type": "quantitative", "scale": {"domain": [-2, 7], "nice": false, "zero": false}, "axis": {"orient": "bottom", "tickCount": 45, "labels": false, "domain": false, "tickSize": -4, "title": null}},
          "y": {"field": "D", "type": "quantitative", "scale": {"domain": [-17, 26], "nice": false, "zero": false}, "axis": {"orient": "left", "tickCount": 43, "labels": false, "domain": false, "tickSize": -4, "title": null}}
        }
      },
      {
        "data": {"values": [{"E": 0, "D": 0}]},
        "mark": {"type": "point", "opacity": 0},
        "encoding": {
          "x": {"field": "E", "type": "quantitative", "scale": {"domain": [-2, 7], "nice": false, "zero": false}, "axis": {"orient": "top", "values": [-2,-1,0,1,2,3,4,5,6,7], "labels": false, "domain": false, "tickSize": -7, "title": null}},
          "y": {"field": "D", "type": "quantitative", "scale": {"domain": [-17, 26], "nice": false, "zero": false}, "axis": {"orient": "right", "values": [-15,-10,-5,0,5,10,15,20,25], "labels": false, "domain": false, "tickSize": -7, "title": null}}
        }
      },
      {
        "data": {"values": [{"E": 0, "D": 0}]},
        "mark": {"type": "point", "opacity": 0},
        "encoding": {
          "x": {"field": "E", "type": "quantitative", "scale": {"domain": [-2, 7], "nice": false, "zero": false}, "axis": {"orient": "top", "tickCount": 45, "labels": false, "domain": false, "tickSize": -4, "title": null}},
          "y": {"field": "D", "type": "quantitative", "scale": {"domain": [-17, 26], "nice": false, "zero": false}, "axis": {"orient": "right", "tickCount": 43, "labels": false, "domain": false, "tickSize": -4, "title": null}}
        }
      }
    ]
  }
]
}
